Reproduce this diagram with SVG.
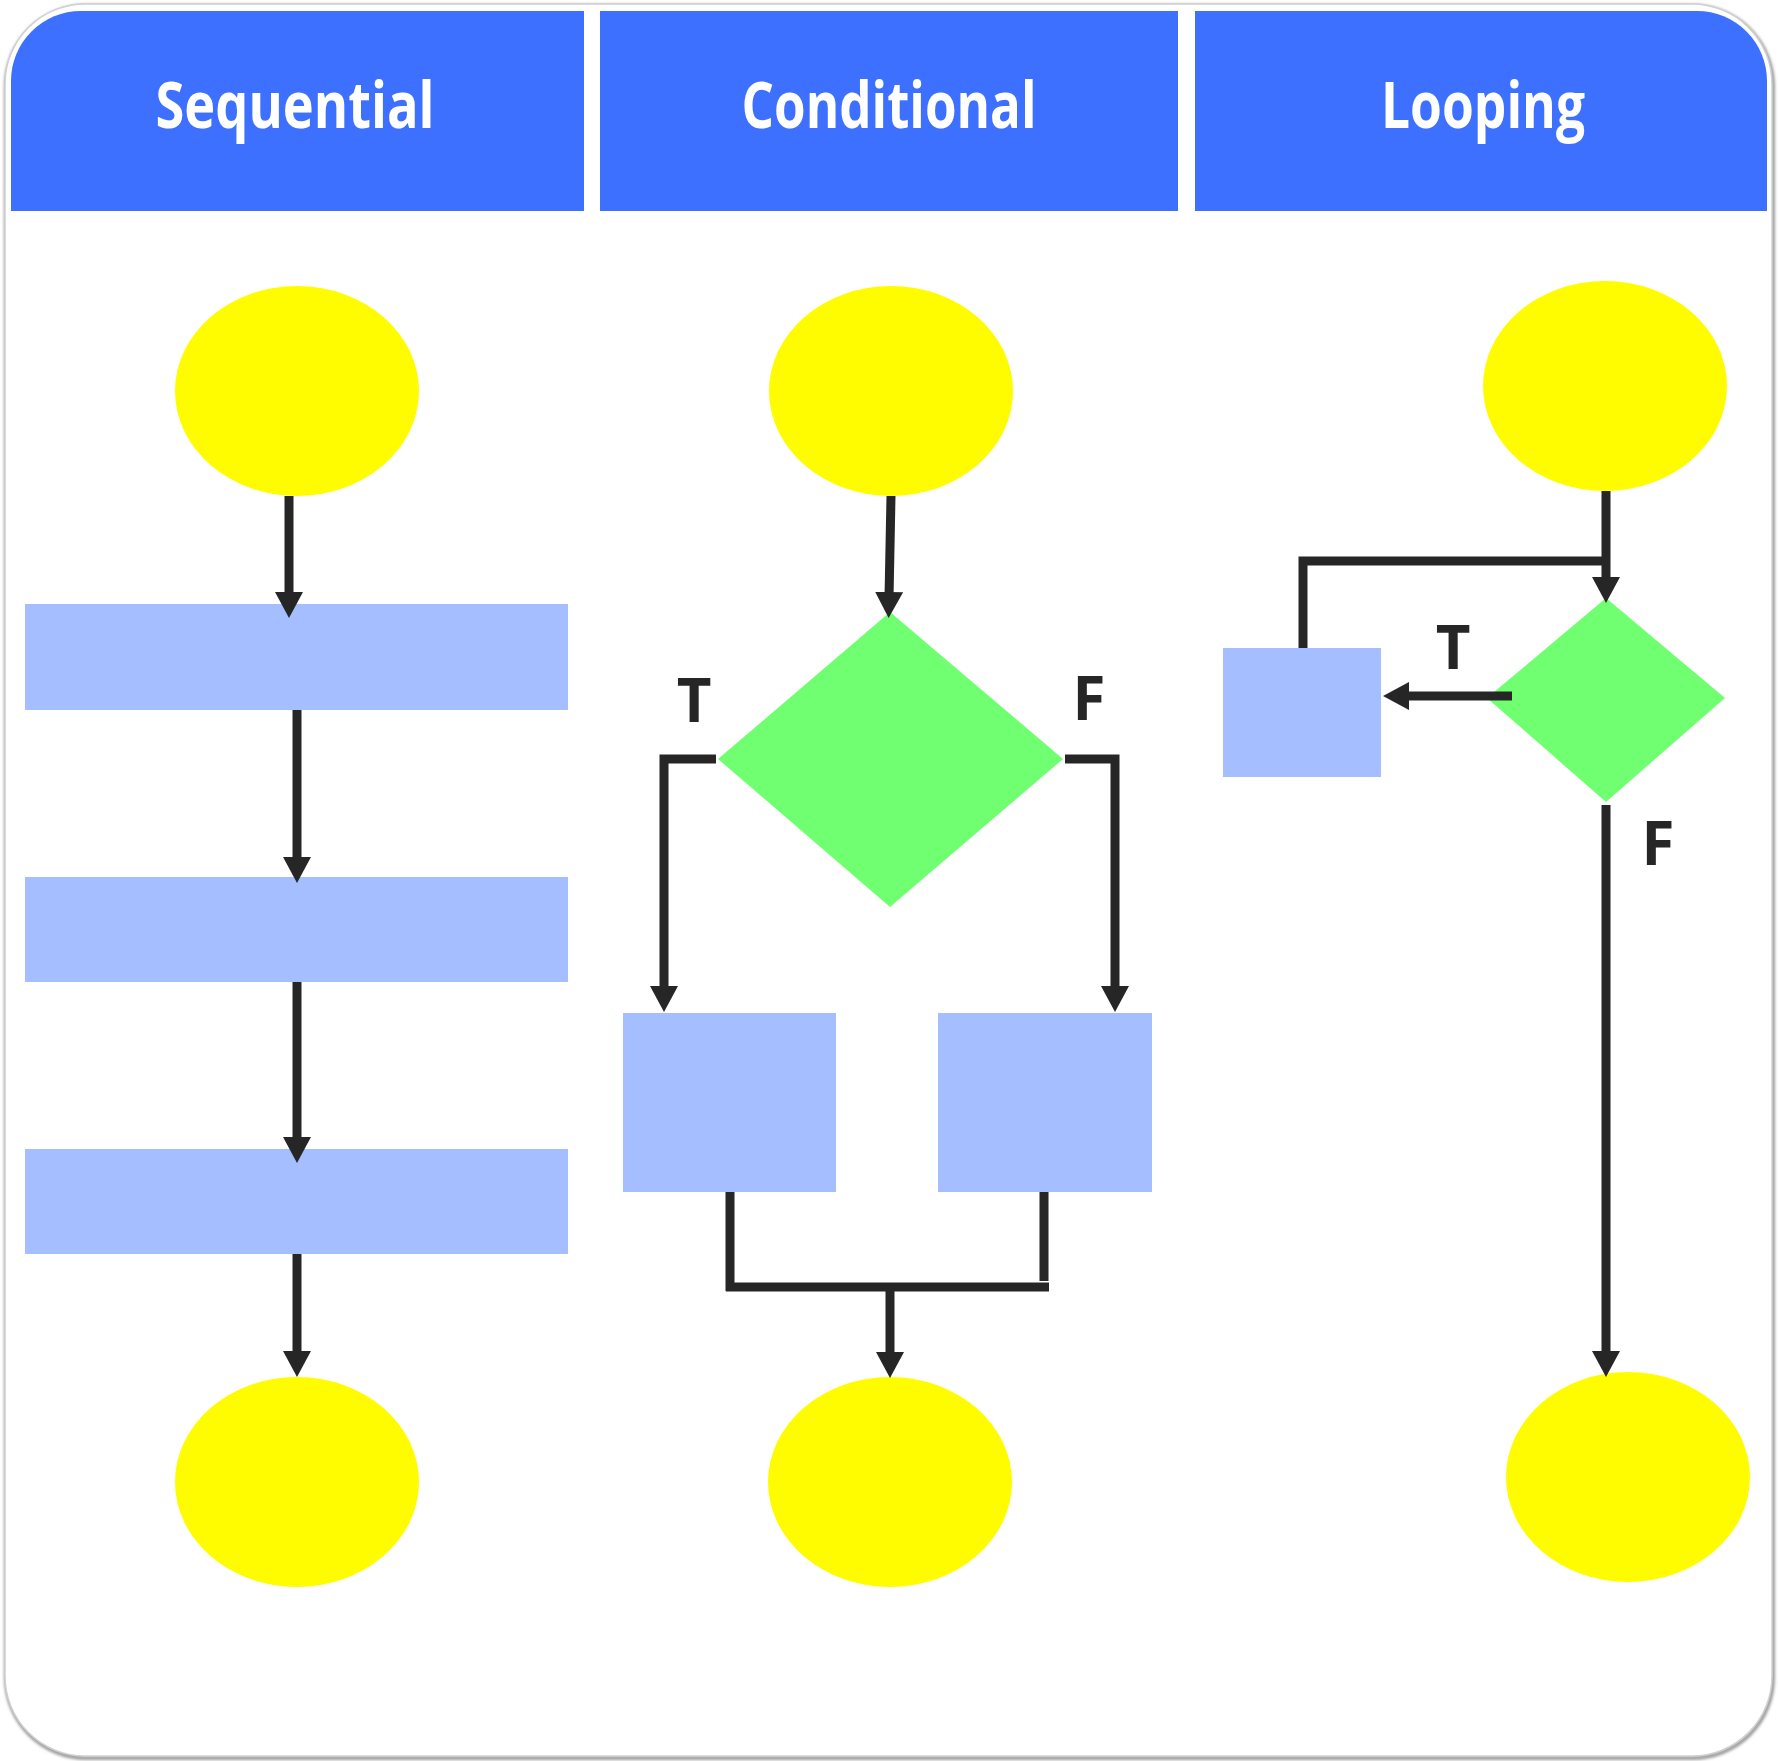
<svg xmlns="http://www.w3.org/2000/svg" width="1778" height="1761" viewBox="0 0 1778 1761">
<defs>
<style>
.hdr{fill:#3D70FF}
.htxt{fill:#ffffff;font-family:"Open Sans","Noto Sans",sans-serif;font-weight:700;font-size:64px;text-anchor:middle}
.lbl{fill:#262626;font-family:"Open Sans","Noto Sans",sans-serif;font-weight:700;font-size:60px;text-anchor:middle}
.term{fill:#FFFC00}
.proc{fill:#A5BEFF}
.dec{fill:#70FF70}
.con{fill:none;stroke:#262626;stroke-width:9}
.arr{fill:none;stroke:#262626;stroke-width:9;marker-end:url(#ah)}
</style>
<marker id="ah" markerUnits="userSpaceOnUse" markerWidth="34" markerHeight="34" refX="6" refY="14" orient="auto">
<path d="M0,0 L26,14 L0,28 Z" fill="#262626"/>
</marker>
<filter id="sh" x="-5%" y="-5%" width="110%" height="110%">
<feGaussianBlur stdDeviation="1.5"/>
</filter>
</defs>
<rect x="0" y="0" width="1778" height="1761" fill="#ffffff"/>
<g id="frame">
<rect x="6" y="6" width="1767" height="1752" rx="80" ry="80" fill="none" stroke="#8f8f8f" stroke-width="3.5" filter="url(#sh)"/>
<rect x="5" y="4" width="1767" height="1752" rx="80" ry="80" fill="#ffffff" stroke="#d0d0d0" stroke-width="1.5"/>
</g>
<g id="header-sequential">
<path class="hdr" d="M11,211 V81 A70,70 0 0 1 81,11 H584 V211 Z"/>
<text class="htxt" x="295" y="128" textLength="279" lengthAdjust="spacingAndGlyphs">Sequential</text>
</g>
<g id="header-conditional">
<rect class="hdr" x="600" y="11" width="578" height="200"/>
<text class="htxt" x="889" y="128" textLength="295" lengthAdjust="spacingAndGlyphs">Conditional</text>
</g>
<g id="header-looping">
<path class="hdr" d="M1195,211 V11 H1697 A70,70 0 0 1 1767,81 V211 Z"/>
<text class="htxt" x="1483" y="128" textLength="204" lengthAdjust="spacingAndGlyphs">Looping</text>
</g>

<g id="seq-start"><ellipse class="term" cx="297" cy="391" rx="122" ry="105"/></g>
<g id="seq-step1"><rect class="proc" x="25" y="604" width="543" height="106"/></g>
<g id="seq-step2"><rect class="proc" x="25" y="877" width="543" height="105"/></g>
<g id="seq-step3"><rect class="proc" x="25" y="1149" width="543" height="105"/></g>
<g id="seq-end"><ellipse class="term" cx="297" cy="1482" rx="122" ry="105"/></g>

<g id="cond-start"><ellipse class="term" cx="891" cy="391" rx="122" ry="105"/></g>
<g id="cond-decision"><polygon class="dec" points="890,612 1063,759 890,907 718,759"/></g>
<g id="cond-true"><rect class="proc" x="623" y="1013" width="213" height="179"/></g>
<g id="cond-false"><rect class="proc" x="938" y="1013" width="214" height="179"/></g>
<g id="cond-end"><ellipse class="term" cx="890" cy="1482" rx="122" ry="105"/></g>

<g id="loop-start"><ellipse class="term" cx="1605" cy="386" rx="122" ry="105"/></g>
<g id="loop-decision"><polygon class="dec" points="1606,598 1725,698 1606,802 1487,698"/></g>
<g id="loop-body"><rect class="proc" x="1223" y="648" width="158" height="129"/></g>
<g id="loop-end"><ellipse class="term" cx="1628" cy="1477" rx="122" ry="105"/></g>

<g id="connectors">
<line class="arr" x1="289" y1="496" x2="289" y2="598"/>
<line class="arr" x1="297" y1="710" x2="297" y2="863"/>
<line class="arr" x1="297" y1="982" x2="297" y2="1143"/>
<line class="arr" x1="297" y1="1254" x2="297" y2="1357"/>

<line class="arr" x1="891" y1="496" x2="889" y2="598"/>
<polyline class="arr" points="716,759 664,759 664,992"/>
<polyline class="arr" points="1065,759 1115,759 1115,992"/>
<line class="con" x1="730" y1="1192" x2="730" y2="1291"/>
<line class="con" x1="1044" y1="1192" x2="1044" y2="1281"/>
<line class="con" x1="726" y1="1287" x2="1049" y2="1287"/>
<line class="arr" x1="890" y1="1287" x2="890" y2="1358"/>

<line class="arr" x1="1606" y1="491" x2="1606" y2="583"/>
<polyline class="con" points="1606,561 1303,561 1303,648"/>
<line class="arr" x1="1512" y1="696" x2="1403" y2="696"/>
<line class="arr" x1="1606" y1="805" x2="1606" y2="1357"/>
</g>

<g id="labels">
<text class="lbl" x="694" y="722">T</text>
<text class="lbl" x="1089" y="720">F</text>
<text class="lbl" x="1453" y="669">T</text>
<text class="lbl" x="1658" y="865">F</text>
</g>
</svg>
